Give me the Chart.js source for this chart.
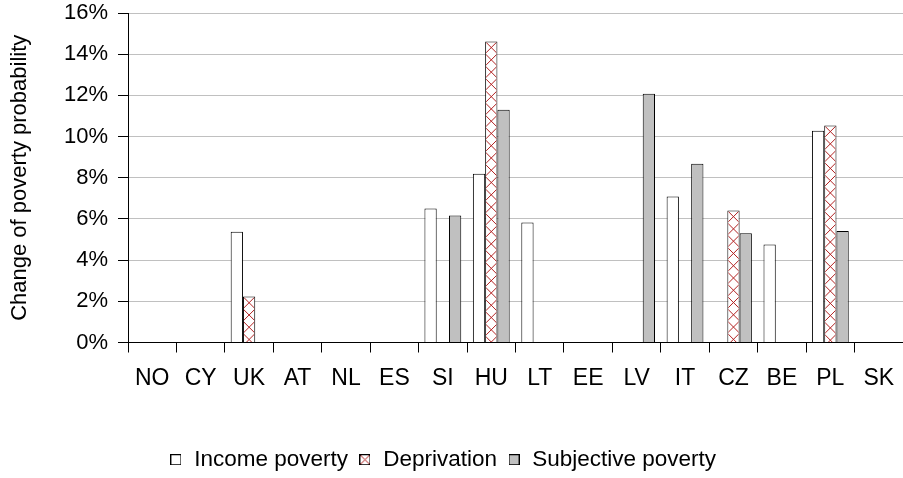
<!DOCTYPE html>
<html>
<head>
<meta charset="utf-8">
<script src="https://cdn.jsdelivr.net/npm/chart.js@4.4.0/dist/chart.umd.min.js"></script>
<style>
  html, body { margin: 0; padding: 0; background: #fff; }
  #wrap { width: 903px; height: 478px; }
</style>
</head>
<body>
<div id="wrap"><canvas id="povChart"></canvas></div>
<script>
(function () {
  'use strict';

  // values, in percent
  var countries = ['NO', 'CY', 'UK', 'AT', 'NL', 'ES', 'SI', 'HU', 'LT', 'EE', 'LV', 'IT', 'CZ', 'BE', 'PL', 'SK'];
  var incomePoverty = [null, null, 5.38, null, null, null, 6.51, 8.19, 5.83, null, null, 7.09, null, 4.76, 10.28, null];
  var deprivation = [null, null, 2.23, null, null, null, null, 14.62, null, null, null, null, 6.41, null, 10.54, null];
  var subjectivePoverty = [null, null, null, null, null, null, 6.17, 11.30, null, null, 12.08, 8.68, 5.31, null, 5.41, null];
  var seriesNames = ['Income poverty', 'Deprivation', 'Subjective poverty'];

  var hatchColor = '#b22222';
  var greyFill = '#c0c0c0';
  var font = 'Liberation Sans';

  // small legend swatches
  function swatch(fill, cross) {
    var c = document.createElement('canvas');
    c.width = 11; c.height = 11;
    var g = c.getContext('2d');
    g.fillStyle = fill;
    g.fillRect(0, 0, 11, 11);
    if (cross) {
      g.strokeStyle = hatchColor;
      g.lineWidth = 1;
      g.beginPath();
      g.moveTo(1, 1); g.lineTo(10, 10);
      g.moveTo(10, 1); g.lineTo(1, 10);
      g.stroke();
    }
    g.strokeStyle = '#000';
    g.strokeRect(0.5, 0.5, 10, 10);
    return c;
  }
  var icons = [swatch('#fff', false), swatch('#fff', true), swatch(greyFill, false)];

  // cross hatch inside the deprivation bars
  var hatch = {
    id: 'hatch',
    afterDatasetDraw: function (chart, args) {
      if (args.index !== 1) return;
      var ctx = chart.ctx;
      args.meta.data.forEach(function (bar) {
        var p = bar.getProps(['x', 'y', 'base', 'width'], true);
        if (!isFinite(p.y) || p.base - p.y < 2) return;
        var l = p.x - p.width / 2, r = p.x + p.width / 2, step = p.width;
        ctx.save();
        ctx.beginPath();
        ctx.rect(l + 1, p.y + 1, p.width - 2, p.base - p.y - 1);
        ctx.clip();
        ctx.strokeStyle = hatchColor;
        ctx.lineWidth = 1;
        ctx.beginPath();
        for (var yy = p.y; yy < p.base; yy += step) {
          ctx.moveTo(l, yy); ctx.lineTo(r, yy + step);
          ctx.moveTo(r, yy); ctx.lineTo(l, yy + step);
        }
        ctx.stroke();
        ctx.restore();
      });
    }
  };

  // the legend sits a little left of centre in the original
  var legendShift = {
    id: 'legendShift',
    afterLayout: function (chart) {
      if (chart.legend) { chart.legend.left -= 9; chart.legend.right -= 9; }
    }
  };

  var ctx = document.getElementById('povChart').getContext('2d');
  var povChart = new Chart(ctx, {
    type: 'bar',
    data: {
      labels: countries,
      datasets: [
        { label: seriesNames[0], data: incomePoverty, backgroundColor: '#fff' },
        { label: seriesNames[1], data: deprivation, backgroundColor: '#fff' },
        { label: seriesNames[2], data: subjectivePoverty, backgroundColor: greyFill }
      ]
    },
    options: {
      responsive: true,
      maintainAspectRatio: false,
      animation: false,
      layout: { padding: { top: 0, right: 0, bottom: -3, left: 0 } },
      datasets: {
        bar: {
          borderColor: '#000',
          borderWidth: 1,
          categoryPercentage: 0.76,
          barPercentage: 1.0
        }
      },
      scales: {
        x: {
          grid: { drawOnChartArea: false, color: '#000', tickLength: 10, offset: true },
          border: { color: '#000' },
          ticks: { color: '#000', font: { family: font, size: 23 }, padding: 12, maxRotation: 0, autoSkip: false },
          afterFit: function (scale) {
            scale.height = 96;
            scale.paddingLeft = 0;
            scale.paddingRight = 0;
          }
        },
        y: {
          min: 0,
          max: 16,
          grid: { color: '#c0c0c0', tickColor: '#000', tickLength: 10 },
          border: { color: '#000' },
          ticks: {
            stepSize: 2,
            color: '#000',
            font: { family: font, size: 22 },
            padding: 10,
            callback: function (v) { return v + '%'; }
          },
          title: {
            display: true,
            text: 'Change of poverty probability',
            color: '#000',
            font: { family: font, size: 22 },
            padding: { top: 7, bottom: 0 }
          },
          afterFit: function (scale) {
            scale.width = 128;
            scale.paddingTop = 13;
            scale.paddingBottom = 0;
          }
        }
      },
      plugins: {
        tooltip: { enabled: false },
        legend: {
          position: 'bottom',
          labels: {
            color: '#000',
            font: { family: font, size: 22.5 },
            usePointStyle: true,
            pointStyleWidth: 14,
            padding: 10,
            generateLabels: function (chart) {
              return chart.data.datasets.map(function (ds, i) {
                return { text: ds.label, pointStyle: icons[i], datasetIndex: i, hidden: false, fontColor: '#000', lineWidth: 0 };
              });
            }
          }
        }
      }
    },
    plugins: [hatch, legendShift]
  });
})();
</script>
</body>
</html>
